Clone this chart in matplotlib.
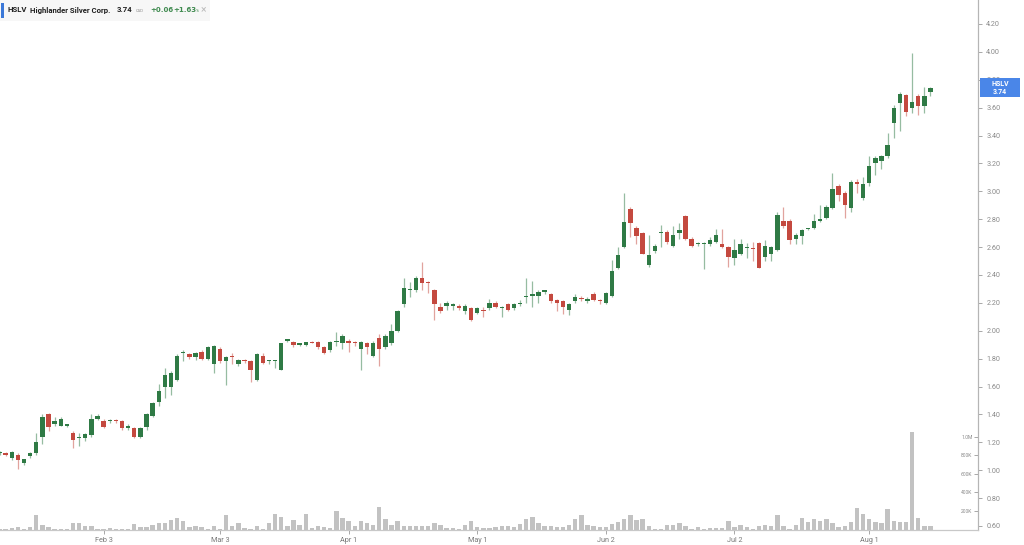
import matplotlib
matplotlib.use("Agg")
import matplotlib.pyplot as plt
from matplotlib.patches import Rectangle

# daily candles, index = trading day (Jan 2025 .. Aug 18 2025)
opens = [1.12, 1.12, 1.09, 1.11, 1.05, 1.10, 1.12, 1.24, 1.40, 1.33,
         1.32, 1.32, 1.27, 1.23, 1.23, 1.25, 1.37, 1.35, 1.35, 1.36,
         1.35, 1.30, 1.30, 1.24, 1.31, 1.39, 1.49, 1.60, 1.60, 1.65,
         1.84, 1.83, 1.81, 1.85, 1.80, 1.76, 1.87, 1.78, 1.82, 1.76,
         1.79, 1.78, 1.65, 1.82, 1.78, 1.78, 1.72, 1.93, 1.92, 1.90,
         1.90, 1.92, 1.92, 1.88, 1.86, 1.92, 1.91, 1.93, 1.92, 1.87,
         1.91, 1.82, 1.95, 1.88, 1.91, 2.00, 2.19, 2.29, 2.29, 2.38,
         2.35, 2.29, 2.17, 2.18, 2.18, 2.18, 2.14, 2.16, 2.13, 2.15,
         2.16, 2.20, 2.16, 2.19, 2.16, 2.19, 2.24, 2.25, 2.25, 2.28,
         2.26, 2.22, 2.21, 2.15, 2.21, 2.23, 2.21, 2.26, 2.22, 2.20,
         2.25, 2.45, 2.60, 2.87, 2.74, 2.70, 2.47, 2.57, 2.70, 2.71,
         2.61, 2.70, 2.82, 2.66, 2.62, 2.62, 2.62, 2.64, 2.62, 2.60,
         2.52, 2.55, 2.59, 2.59, 2.63, 2.53, 2.55, 2.58, 2.79, 2.79,
         2.66, 2.68, 2.73, 2.74, 2.79, 2.81, 2.88, 3.04, 2.99, 2.88,
         3.07, 2.95, 3.06, 3.20, 3.22, 3.25, 3.49, 3.63, 3.69, 3.60,
         3.68, 3.61, 3.71]
highs = [1.14, 1.13, 1.14, 1.12, 1.08, 1.13, 1.27, 1.40, 1.41, 1.38,
         1.38, 1.33, 1.28, 1.27, 1.27, 1.40, 1.40, 1.37, 1.37, 1.37,
         1.36, 1.33, 1.31, 1.31, 1.41, 1.49, 1.62, 1.73, 1.71, 1.83,
         1.86, 1.84, 1.85, 1.86, 1.89, 1.90, 1.88, 1.82, 1.84, 1.80,
         1.80, 1.79, 1.84, 1.84, 1.79, 1.79, 1.91, 1.94, 1.93, 1.91,
         1.92, 1.93, 1.93, 1.89, 1.93, 1.99, 1.98, 1.94, 1.93, 1.93,
         1.92, 1.93, 1.98, 1.98, 2.05, 2.15, 2.38, 2.35, 2.39, 2.49,
         2.36, 2.30, 2.20, 2.21, 2.20, 2.19, 2.19, 2.17, 2.17, 2.17,
         2.23, 2.21, 2.18, 2.20, 2.20, 2.22, 2.38, 2.36, 2.29, 2.29,
         2.27, 2.23, 2.22, 2.20, 2.26, 2.25, 2.24, 2.28, 2.23, 2.28,
         2.51, 2.60, 2.99, 2.89, 2.75, 2.71, 2.69, 2.62, 2.76, 2.72,
         2.75, 2.77, 2.83, 2.67, 2.64, 2.64, 2.67, 2.73, 2.73, 2.61,
         2.66, 2.66, 2.63, 2.64, 2.64, 2.65, 2.61, 2.85, 2.89, 2.80,
         2.70, 2.73, 2.74, 2.84, 2.90, 2.90, 3.13, 3.05, 3.00, 3.08,
         3.09, 3.10, 3.25, 3.25, 3.26, 3.42, 3.62, 3.71, 3.70, 3.99,
         3.70, 3.75, 3.75]
lows = [1.11, 1.10, 1.07, 1.01, 1.04, 1.09, 1.11, 1.19, 1.28, 1.32,
        1.32, 1.31, 1.16, 1.17, 1.21, 1.24, 1.36, 1.30, 1.34, 1.34,
        1.29, 1.29, 1.23, 1.23, 1.29, 1.38, 1.46, 1.52, 1.54, 1.64,
        1.78, 1.80, 1.79, 1.79, 1.79, 1.70, 1.77, 1.61, 1.76, 1.75,
        1.77, 1.63, 1.64, 1.76, 1.76, 1.73, 1.72, 1.92, 1.88, 1.89,
        1.89, 1.91, 1.87, 1.83, 1.85, 1.89, 1.87, 1.85, 1.89, 1.72,
        1.83, 1.81, 1.75, 1.87, 1.90, 1.99, 2.17, 2.24, 2.28, 2.29,
        2.27, 2.08, 2.13, 2.15, 2.15, 2.15, 2.12, 2.07, 2.12, 2.10,
        2.15, 2.16, 2.10, 2.14, 2.15, 2.18, 2.20, 2.17, 2.20, 2.26,
        2.20, 2.14, 2.12, 2.11, 2.20, 2.21, 2.20, 2.21, 2.19, 2.19,
        2.24, 2.44, 2.59, 2.67, 2.62, 2.55, 2.46, 2.56, 2.60, 2.62,
        2.60, 2.66, 2.65, 2.60, 2.61, 2.44, 2.61, 2.63, 2.59, 2.46,
        2.47, 2.54, 2.52, 2.50, 2.45, 2.50, 2.50, 2.57, 2.74, 2.62,
        2.62, 2.62, 2.72, 2.73, 2.78, 2.80, 2.87, 2.93, 2.81, 2.85,
        2.99, 2.94, 3.04, 3.12, 3.16, 3.24, 3.38, 3.43, 3.54, 3.56,
        3.55, 3.56, 3.68]
closes = [1.13, 1.11, 1.13, 1.07, 1.08, 1.12, 1.20, 1.38, 1.31, 1.35,
          1.37, 1.325, 1.22, 1.24, 1.26, 1.37, 1.39, 1.31, 1.36, 1.35,
          1.30, 1.32, 1.24, 1.30, 1.40, 1.48, 1.57, 1.68, 1.70, 1.82,
          1.85, 1.81, 1.84, 1.80, 1.88, 1.89, 1.78, 1.81, 1.81, 1.79,
          1.78, 1.72, 1.83, 1.77, 1.785, 1.785, 1.91, 1.935, 1.90, 1.905,
          1.92, 1.91, 1.88, 1.84, 1.92, 1.925, 1.96, 1.91, 1.91, 1.92,
          1.88, 1.91, 1.87, 1.96, 2.00, 2.14, 2.31, 2.30, 2.38, 2.34,
          2.34, 2.19, 2.14, 2.20, 2.19, 2.16, 2.18, 2.08, 2.16, 2.14,
          2.20, 2.17, 2.17, 2.15, 2.19, 2.20, 2.25, 2.26, 2.28, 2.285,
          2.21, 2.20, 2.17, 2.19, 2.24, 2.225, 2.23, 2.22, 2.21, 2.27,
          2.43, 2.54, 2.78, 2.77, 2.68, 2.55, 2.54, 2.61, 2.71, 2.64,
          2.69, 2.72, 2.66, 2.61, 2.63, 2.625, 2.65, 2.69, 2.60, 2.53,
          2.58, 2.62, 2.595, 2.585, 2.45, 2.61, 2.60, 2.83, 2.75, 2.65,
          2.69, 2.72, 2.735, 2.79, 2.80, 2.89, 3.02, 2.97, 2.90, 3.07,
          3.05, 3.05, 3.18, 3.24, 3.25, 3.33, 3.60, 3.70, 3.57, 3.64,
          3.61, 3.68, 3.74]
# volume in thousands of shares
volume = [10, 5, 18, 29, 8, 29, 152, 47, 25, 8,
          3, 3, 72, 72, 36, 43, 8, 4, 11, 8,
          4, 3, 58, 22, 22, 54, 65, 72, 101, 120,
          90, 25, 36, 25, 4, 43, 3, 155, 43, 72,
          11, 8, 33, 4, 72, 163, 134, 33, 101, 47,
          163, 18, 33, 22, 18, 199, 123, 87, 36, 90,
          72, 50, 240, 118, 54, 97, 43, 36, 36, 36,
          43, 72, 47, 18, 11, 5, 50, 93, 25, 18,
          18, 25, 43, 40, 30, 60, 110, 130, 70, 40,
          40, 30, 25, 50, 110, 160, 50, 40, 30, 30,
          60, 85, 110, 160, 100, 110, 40, 5, 5, 50,
          45, 70, 35, 10, 25, 8, 15, 15, 20, 90,
          25, 45, 25, 5, 35, 50, 35, 160, 40, 10,
          50, 120, 80, 110, 90, 110, 65, 30, 35, 80,
          235, 165, 110, 80, 75, 220, 90, 80, 85, 1050,
          120, 40, 40]

tick_pos = [17, 36, 57, 78, 99, 120, 142]
tick_labels = ["Feb 3", "Mar 3", "Apr 1", "May 1", "Jun 2", "Jul 2", "Aug 1"]
price_ticks = [0.6, 0.8, 1.0, 1.2, 1.4, 1.6, 1.8, 2.0, 2.2, 2.4,
               2.6, 2.8, 3.0, 3.2, 3.4, 3.6, 3.8, 4.0, 4.2]
vol_ticks = [200, 400, 600, 800, 1000]
vol_labels = ["200K", "400K", "600K", "800K", "1.0M"]

GREEN = "#2f7a45"
RED = "#c4493f"
GREY_TXT = "#8a8a8a"
W, H = 1024, 545

plt.rcParams["font.family"] = ["Roboto", "DejaVu Sans"]

fig = plt.figure(figsize=(W / 100, H / 100), dpi=100)
ax = fig.add_axes([0, 1 - 530 / H, 978 / W, 530 / H])
axv = ax.twinx()
ax.set_zorder(axv.get_zorder() + 1)
ax.patch.set_visible(False)

# volume
x = list(range(len(closes)))
axv.bar(x, [v * 1000 for v in volume], width=0.72, color="#c2c2c2", linewidth=0)
axv.set_ylim(-5.4e3, 5.724e6)
axv.set_yticks([v * 1000 for v in vol_ticks])
axv.set_yticklabels(vol_labels)
axv.tick_params(axis="y", direction="in", length=3, width=0.6, color="#9a9a9a",
                pad=-4, labelsize=3.6, labelcolor=GREY_TXT)
for lab in axv.get_yticklabels():
    lab.set_horizontalalignment("right")

# candles
for i in x:
    o, h, l, c = opens[i], highs[i], lows[i], closes[i]
    col = GREEN if c >= o else RED
    ax.vlines(i, l, h, color=col, alpha=0.5, linewidth=0.9)
    ax.bar(i, max(abs(c - o), 0.009), bottom=min(o, c), width=0.72,
           color=col, linewidth=0)

ax.set_xlim(0.08, 159.76)
ax.set_ylim(0.571, 4.372)
axv.set_xlim(0.08, 159.76)

ax.yaxis.tick_right()
ax.set_yticks(price_ticks)
ax.set_yticklabels(["%.2f" % p for p in price_ticks])
ax.tick_params(axis="y", length=3, width=0.6, color="#9a9a9a", pad=3,
               labelsize=5.2, labelcolor=GREY_TXT)
ax.set_xticks(tick_pos)
ax.set_xticklabels(tick_labels)
ax.tick_params(axis="x", length=3, width=0.6, color="#9a9a9a", pad=2,
               labelsize=5.2, labelcolor="#777777")

for a in (ax, axv):
    for s in ("top", "left"):
        a.spines[s].set_visible(False)
    a.spines["right"].set_color("#b5b5b5")
    a.spines["bottom"].set_color("#c8c8c8")
    a.spines["right"].set_linewidth(0.8)
    a.spines["bottom"].set_linewidth(0.8)


def fx(px):
    return px / W


def fy(py):
    return 1 - py / H


# header box
fig.patches.append(Rectangle((0, fy(21)), fx(210), 21 / H, transform=fig.transFigure,
                             facecolor="#f7f7f7", edgecolor="none", zorder=0))
fig.patches.append(Rectangle((fx(1), fy(18)), fx(2.5), 15 / H, transform=fig.transFigure,
                             facecolor="#3b78d8", edgecolor="none"))
hdr = dict(fontsize=5.6, fontweight="bold", va="center")
fig.text(fx(8), fy(10), "HSLV", color="#222222", **hdr)
fig.text(fx(30), fy(10), "Highlander Silver Corp.", color="#222222", **hdr)
fig.text(fx(117), fy(10), "3.74", color="#222222", **hdr)
fig.text(fx(135.5), fy(10.5), "CAD", fontsize=3.0, color=GREY_TXT, va="center")
fig.text(fx(150), fy(10), "+0.06", color="#3f8a4f", family=["DejaVu Sans"],
         fontsize=5.0, fontweight="bold", va="center")
fig.text(fx(173), fy(10), "+1.63", color="#3f8a4f", family=["DejaVu Sans"],
         fontsize=5.0, fontweight="bold", va="center")
fig.text(fx(196), fy(11), "%", fontsize=3.0, color="#3f8a4f", va="center")
fig.text(fx(201), fy(10), "\u00d7", fontsize=7.5, color="#bbbbbb", va="center")

# last price tag
fig.patches.append(Rectangle((fx(980), fy(97)), fx(40), 19 / H, transform=fig.transFigure,
                             facecolor="#4a86e8", edgecolor="none", zorder=5))
fig.text(fx(1000), fy(83.5), "HSLV", fontsize=5.0, fontweight="bold", color="white",
         ha="center", va="center", zorder=6)
fig.text(fx(1000), fy(91.5), "3.74", fontsize=5.0, fontweight="bold", color="white",
         ha="center", va="center", zorder=6)

fig.savefig("out.png", dpi=100, facecolor="white")
